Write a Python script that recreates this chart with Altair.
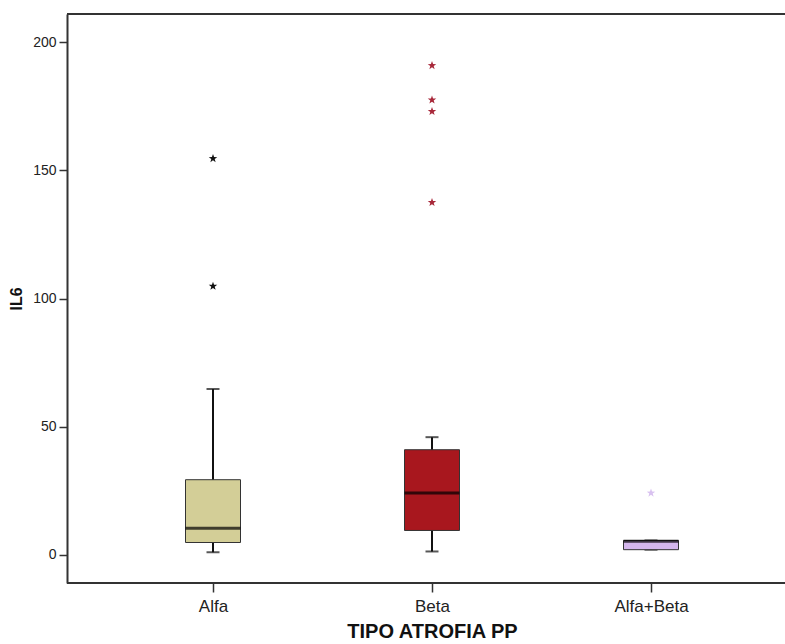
import math
import altair as alt
import pandas as pd

categories = ["Alfa", "Beta", "Alfa+Beta"]
whisker_low = [1.0, 1.3, 2.0]
q1 = [4.8, 9.5, 2.0]
median = [10.4, 24.1, 5.3]
q3 = [29.3, 41.0, 5.6]
whisker_high = [64.7, 45.9, 5.6]
box_colors = ["#D3CE97", "#A8171E", "#D4B6EC"]

outlier_cats = ["Alfa", "Alfa", "Beta", "Beta", "Beta", "Beta", "Alfa+Beta"]
outlier_vals = [154.6, 104.8, 190.9, 177.5, 173.0, 137.5, 24.1]
star_colors = ["#111111", "#A8283A", "#D9C2F0"]

W, H = 690, 569

box_df = pd.DataFrame({
    "cat": categories, "lo": whisker_low, "q1": q1, "med": median,
    "q3": q3, "hi": whisker_high,
})
out_df = pd.DataFrame({"cat": outlier_cats, "val": outlier_vals})

# five-pointed star path
pts = []
for k in range(10):
    r = 1.0 if k % 2 == 0 else 0.4
    a = math.radians(-90 + 36 * k)
    pts.append(f"{r*math.cos(a):.3f},{r*math.sin(a):.3f}")
star = "M" + " L".join(pts) + " Z"

font = "Liberation Sans"
xscale = alt.Scale(type="point", domain=categories, range=[146, 584], padding=0)
yscale = alt.Scale(domain=[-11, 211], nice=False, zero=False)

x_enc = alt.X("cat:N", scale=xscale, sort=categories, axis=alt.Axis(
    title="TIPO ATROFIA PP", labelAngle=0, labelFont=font, labelFontSize=17,
    labelColor="#222", titleFont=font, titleFontSize=20, titleFontWeight="bold",
    titleColor="#111", titleX=365, titleAnchor="middle", labelPadding=6, titlePadding=7,
    tickSize=9, tickColor="#333", tickWidth=1.5, domain=False,
    grid=False))
y_axis = alt.Axis(
    title="IL6", values=[0, 50, 100, 150, 200], labelFont=font, labelFontSize=14,
    labelColor="#222", titleFont=font, titleFontSize=16, titleFontWeight="bold",
    titleColor="#111", tickSize=8, tickColor="#333", tickWidth=1.5,
    domainColor="#333", domainWidth=2, grid=False, labelPadding=3, titlePadding=8)

base = alt.Chart(box_df)

top_border = base.mark_rule(color="#333", strokeWidth=2).encode(
    x=alt.value(0), x2=alt.value(730), y=alt.value(0))
bottom_border = base.mark_rule(color="#333", strokeWidth=2).encode(
    x=alt.value(0), x2=alt.value(730), y=alt.value(H))

whisk = base.mark_rule(color="#111", strokeWidth=2).encode(
    x=x_enc, y=alt.Y("lo:Q", scale=yscale, axis=y_axis), y2="hi:Q")

cap_lo = base.mark_tick(color="#111", size=13, thickness=2).encode(
    x=x_enc, y=alt.Y("lo:Q", scale=yscale))
cap_hi = base.mark_tick(color="#111", size=13, thickness=2).encode(
    x=x_enc, y=alt.Y("hi:Q", scale=yscale))

box = base.mark_bar(size=55, stroke="#333", strokeWidth=1).encode(
    x=x_enc, y=alt.Y("q1:Q", scale=yscale), y2="q3:Q",
    color=alt.Color("cat:N", scale=alt.Scale(domain=categories, range=box_colors), legend=None))

med = base.mark_tick(color="#000", size=55, thickness=3).encode(
    x=x_enc, y=alt.Y("med:Q", scale=yscale))

outl = alt.Chart(out_df).mark_point(shape=star, filled=True, size=80, opacity=1).encode(
    x=x_enc, y=alt.Y("val:Q", scale=yscale),
    color=alt.Color("cat:N", scale=alt.Scale(domain=categories, range=star_colors), legend=None))

chart = alt.layer(top_border, bottom_border, whisk, cap_lo, cap_hi, box, med, outl).resolve_scale(
    color="independent").properties(
    width=W, height=H,
    autosize=alt.AutoSizeParams(type="none"),
    padding={"left": 67, "top": 14, "right": 28, "bottom": 61},
    background="white",
).configure_view(stroke=None)

chart.save("out.html", embed_options={"renderer": "svg", "actions": False})
